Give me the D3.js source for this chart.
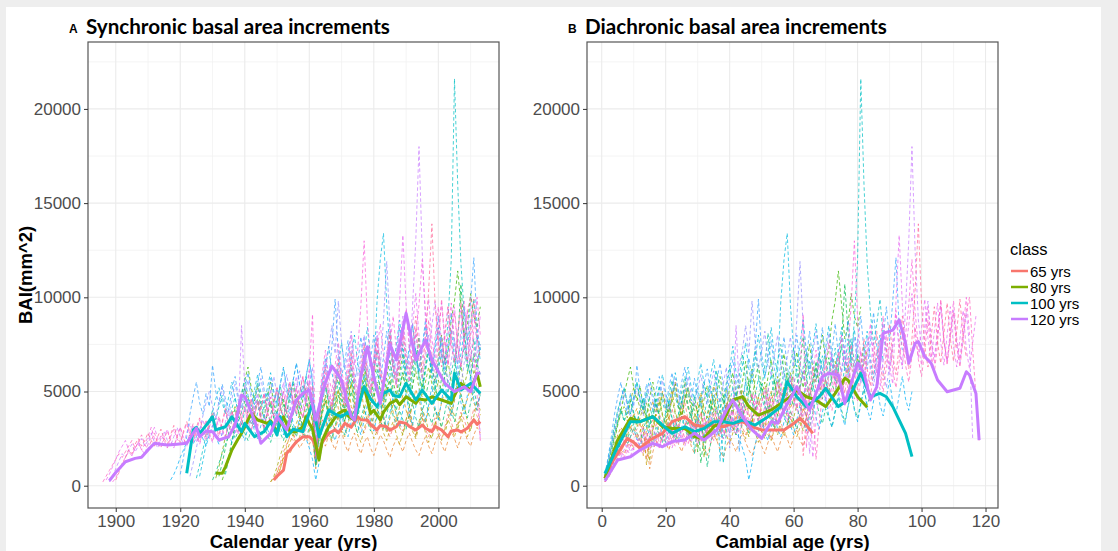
<!DOCTYPE html>
<meta charset="utf-8">
<script src="https://cdnjs.cloudflare.com/ajax/libs/d3/7.8.5/d3.min.js"></script>
<style>
  body { margin: 0; background: #eeeeee; }
  svg text { font-family: "Liberation Sans", Arial, sans-serif; }
</style>
<div id="my_dataviz"></div>
<script>

// all trees were cored in the same year, first value = ring next to the pith
var lastYear = 2013;

var classes = ["65 yrs", "80 yrs", "100 yrs", "120 yrs"];
var classColors = ["#F8766D", "#7CAE00", "#00BFC4", "#C77CFF"];

// basal area increment of each tree, in units of 100 mm^2, one value per ring
var trees65 = [
  [3,7,12,18,22,26,24,29,31,27, 30,33,29,14,26,35,31,38,34,29, 36,41,33,30,37,44,35,31,28,34,
   39,32,27,33,38,30,26,31,36,33, 29,35,40,31,27,33,37,30,26,32, 36,29,25,31,38,34,28,33,39,35, 30,34,41,37,33],
  [2,4,7,11,15,19,17,21,24,20, 23,26,22,25,9,18,24,21,27,23, 19,25,29,22,18,24,28,21,17,23,
   26,20,16,22,27,24,19,15,21,25, 22,18,24,28,23,19,16,22,26,21, 17,23,27,22,18,24,29,25,20,26, 30,24,21,27,31,28],
  [4,9,15,21,27,31,28,35,30,37, 41,33,16,30,39,45,37,43,50,41, 36,47,55,42,38,46,52,40,35,44,
   49,41,36,45,53,47,39,34,42,48, 40,35,43,51,46,38,33,41,47,39, 36,44,50,42,37,45,53,48,41,46, 52,44,40,49],
  [3,5,9,14,18,23,27,22,26,31, 25,29,33,11,24,30,36,28,24,31, 37,29,26,33,40,34,27,23,30,36,
   31,25,29,35,28,24,30,34,27,22, 28,33,37,29,25,31,36,28,23,29, 34,27,24,30,35,31,26,32,37,30, 26,31,36,33,38],
  [2,5,10,16,21,25,30,26,33,38, 31,36,42,34,13,29,40,47,38,33, 44,51,39,34,45,55,43,36,31,40,
   48,37,30,39,46,35,28,36,44,38, 31,27,35,42,33,26,34,41,36,29, 25,33,39,31,27,35,42,37,30,36, 43,34,29,37,45,40]
];

var trees80 = [
  [4,10,18,26,33,38,42,36,45,52, 47,41,38,44,36,31,39,45,37,33, 40,46,38,34,42,49,41,36,44,39,
   45,15,30,41,48,40,35,43,51,44, 38,46,54,45,40,49,62,50,43,48, 55,46,41,50,58,49,44,52,60,51,
   45,53,61,52,47,55,63,54,48,56, 50,58,66,55,49,57,64,53,60,68, 59,65,72],
  [3,8,15,24,32,40,48,56,63,52, 45,53,41,36,47,55,43,38,49,44, 39,47,54,42,37,46,52,44,40,18,
   35,46,53,44,39,50,58,47,41,52, 60,49,43,55,66,52,45,57,64,51, 46,58,67,55,48,60,70,57,50,62,
   71,59,52,64,75,62,55,68,80,66, 72,88,98,114,96,78,85,102,90, 84,95],
  [5,12,20,28,35,41,34,39,45,38, 33,40,46,37,31,38,44,36,30,37, 43,35,30,38,45,37,32,40,47,39,
   12,27,38,45,36,31,40,48,39,34, 42,50,41,36,45,57,44,38,47,54, 43,37,48,56,45,40,51,60,48,42,
   53,64,79,58,47,55,66,52,46,57, 68,54,49,62,76,107,82,65,58,70, 63,75],
  [3,7,12,17,22,26,30,25,29,33, 28,24,30,35,29,25,31,27,23,29, 34,28,24,31,37,30,26,33,28,25,
   31,27,10,22,30,36,29,25,32,38, 31,27,34,40,33,28,36,42,34,29, 37,43,35,30,38,45,37,32,40,35,
   30,38,44,36,31,39,46,38,33,41, 36,31,39,47,40,34,42,49,41,36, 44,51,43,48],
  [6,14,23,32,40,46,52,44,38,47, 55,46,40,50,42,36,45,53,44,39, 48,56,47,41,50,58,48,42,17,36,
   47,55,46,40,52,61,50,44,55,64, 52,46,58,70,56,49,61,72,58,51, 64,81,62,54,66,75,60,53,65,73,
   58,51,63,71,57,50,62,70,56,49, 60,68,55,63,74,61,67,78,65,59]
];

var trees100 = [
  [4,11,19,27,34,40,35,42,48,39, 33,41,47,38,32,40,46,37,31,39, 45,36,30,38,44,51,42,36,45,52,
   43,37,46,53,44,38,47,12,29,44, 52,43,37,46,55,45,39,48,57,47, 41,50,59,48,42,51,61,50,43,53,
   62,51,45,55,66,54,47,58,69,56, 49,60,73,59,52,63,78,65,88,120, 216,160,118,92,75,86,99,80,72],
  [5,13,22,31,39,46,52,44,38,47, 55,46,40,49,57,48,42,51,59,49, 43,52,60,50,44,54,63,52,46,56,
   65,54,47,58,67,55,13,36,52,62, 74,60,52,64,76,62,54,67,80,65, 57,70,84,68,60,98,120,134,96,72,
   63,75,88,71,62,74,86,70,61,73, 85,69,60,72,84,69,59,71,83,68, 58,70,82,67,57,69,80,66],
  [3,6,10,15,19,23,27,22,26,30, 25,21,27,32,26,22,28,33,27,23, 29,35,28,24,31,37,29,25,32,38,
   30,26,33,40,31,27,35,42,33,28, 36,30,25,20,14,3,12,22,29,35, 28,24,31,38,30,26,34,41,32,27,
   35,43,34,29,37,45,36,30,39,47, 37,31,40,49,38,32,42,51,40,34, 43,53,41,35,45,55,43,37,47,56,
   44,38,48,58,46,40,50],
  [6,15,26,38,47,55,44,38,49,42, 64,50,43,54,46,40,51,58,47,41, 52,60,49,43,55,63,51,45,57,48,
   42,54,62,50,44,56,65,53,46,58, 67,54,18,40,56,68,57,74,99,70, 58,66,77,62,54,65,79,63,55,67,
   80,64,56,68,82,66,57,70,84,67, 58,71,86,69,60,73,88,71,61,75, 90,72,62,76,92,74,64,78,95,77,
   98,121,84,72],
  [5,12,20,29,37,44,50,42,36,45, 52,43,37,46,54,45,39,48,56,46, 40,49,57,47,41,50,58,48,42,51,
   59,49,43,52,61,50,44,54,63,20, 41,55,64,72,85,70,98,76,62,71, 82,66,58,69,80,64,56,68,79,63,
   88,119,84,67,58,70,82,66,57,69, 81,65,56,68,80,64,55,67,79,63, 54,66,78,62,53,65,77,61,52,64, 75]
];

var trees120 = [
  [2,5,9,13,17,15,19,22,18,21, 25,21,24,28,23,20,25,29,24,21, 26,31,26,22,28,33,27,23,30,35,
   29,25,32,37,30,26,34,40,32,28, 36,85,52,38,33,42,49,39,34,44, 51,41,36,47,55,44,38,50,58,46,
   40,52,61,48,17,38,55,66,52,45, 58,70,56,48,62,74,59,51,65,78, 62,53,68,82,65,56,71,86,68,59,
   74,90,72,62,95,130,180,124,88,72, 85,98,78,68,82,95,76,66,80,93, 75,65,79,92,74,24],
  [3,6,10,14,18,21,24,19,16,20, 23,19,17,22,27,31,25,21,26,30, 24,20,26,31,25,21,27,32,26,22,
   28,34,27,23,30,36,29,25,33,39, 31,27,35,42,33,29,37,45,35,30, 39,47,37,32,42,50,39,34,44,53,
   42,36,47,56,45,15,34,50,60,48, 41,54,64,51,44,57,68,54,46,60, 72,57,49,63,76,60,51,66,80,63,
   54,98,133,96,72,85,102,80,68,84, 99,78,66,82,97,76,64,80,95,74, 63,78,93,72,62,76,90],
  [2,4,8,12,15,18,16,20,23,19, 22,26,31,25,21,27,24,20,26,30, 25,22,28,33,27,23,29,35,28,24,
   31,37,30,26,33,40,32,28,36,43, 34,30,38,46,36,31,41,49,39,33, 43,52,41,35,46,55,44,38,49,58,
   46,62,91,20,44,60,72,58,50,64, 76,61,53,67,80,64,72,96,130,88, 68,58,72,86,69,60,75,90,72,62,
   77,93,75,64,80,96,120,92,74,64, 79,95,76,65,81,97,77,66,82,98, 78,67,83,100,80],
  [2,5,8,11,14,17,15,18,21,24, 20,23,27,22,19,24,28,23,20,25, 29,24,21,26,31,25,22,28,33,27,
   23,29,35,28,24,31,37,30,26,33, 40,32,28,35,42,34,29,37,45,36, 31,39,47,38,33,41,50,40,35,43,
   52,42,36,45,54,44,14,33,48,57, 46,40,51,61,49,42,54,65,52,45, 57,69,55,47,60,72,58,50,63,76,
   61,52,66,80,64,55,69,84,67,58, 72,88,70,60,75,99,78,64,79,92, 74,63,78,93,100,72,48,24],
  [3,7,11,15,19,17,22,25,21,24, 28,24,21,26,30,25,22,27,32,26, 23,29,34,28,24,31,36,30,26,33,
   39,31,27,34,41,33,29,37,44,35, 30,39,46,37,32,41,49,39,34,44, 52,42,36,46,55,44,38,49,58,47,
   41,53,16,36,52,63,50,43,56,67, 54,46,59,71,57,49,62,75,60,51, 65,78,62,53,68,82,65,56,71,86,
   69,59,74,90,72,62,78,104,139,96, 74,63,79,95,76,65,81,97,78,66, 82,99,79,68]
];

// class means by calendar year [year, BAI mm^2]
var synMean65 = [[1949,300],[1950,500],[1952,830],[1953,1720],[1954,1900],[1956,2335],[1958,2600],[1960,2600],[1961,2450],
  [1963,1720],[1964,2300],[1966,2780],[1968,2960],[1969,2800],[1971,3310],[1973,3100],[1975,3660],[1976,3500],[1978,3490],
  [1979,3250],[1981,2960],[1982,3200],[1984,3130],[1985,2950],[1987,3130],[1988,3380],[1990,3310],[1991,3150],[1993,2960],
  [1995,3220],[1996,3050],[1998,2870],[1999,3150],[2001,2960],[2003,2600],[2004,2900],[2006,2960],[2007,2850],[2009,3050],
  [2011,3490],[2012,3250],[2013,3400]];
var synMean80 = [[1931,658],[1933,658],[1934,1000],[1936,1895],[1938,2500],[1939,2780],[1942,3840],[1944,3490],[1947,3310],
  [1948,3450],[1950,2870],[1952,3660],[1954,2870],[1956,2870],[1958,3130],[1959,3660],[1960,3310],[1961,3000],[1963,1360],
  [1964,2400],[1966,3130],[1969,3840],[1971,4020],[1972,3700],[1974,3490],[1975,4200],[1977,5250],[1979,3840],[1980,4000],
  [1982,3490],[1983,3900],[1985,4370],[1987,4550],[1988,4300],[1990,4720],[1993,4370],[1994,4600],[1996,4550],[1998,4720],
  [2001,4550],[2004,4370],[2005,4800],[2007,5430],[2010,5080],[2012,5970],[2013,5250]];
var synMean100 = [[1922,658],[1924,2960],[1925,3100],[1926,2780],[1928,3200],[1930,3660],[1931,2960],[1934,3130],[1936,3660],
  [1939,2870],[1940,3310],[1943,2600],[1946,2870],[1948,3400],[1950,2690],[1951,3660],[1953,2600],[1955,3000],[1958,2870],
  [1961,4370],[1963,2600],[1966,4020],[1968,3800],[1970,3660],[1972,3900],[1974,3490],[1977,5250],[1979,4600],[1981,4200],
  [1983,4900],[1985,5080],[1986,4800],[1988,4725],[1990,5440],[1993,4550],[1995,5080],[1998,4370],[2001,5080],[2004,4550],
  [2005,5970],[2007,5080],[2010,5430],[2013,4900]];
var synMean120 = [[1898,265],[1900,700],[1903,1274],[1906,1450],[1908,1507],[1910,1900],[1912,2250],[1914,2200],[1916,2160],
  [1919,2200],[1922,2250],[1925,3050],[1926,2600],[1928,2900],[1930,2870],[1932,2425],[1935,2600],[1937,3220],[1939,4810],
  [1940,4720],[1943,3490],[1945,2250],[1948,2780],[1950,3660],[1953,2960],[1956,4550],[1958,4900],[1960,5080],[1962,3490],
  [1965,5500],[1967,6350],[1970,5610],[1973,3660],[1974,3490],[1976,5790],[1978,7380],[1980,5790],[1982,4370],[1985,7500],
  [1987,6670],[1990,9150],[1993,6670],[1996,7730],[1998,6670],[2002,5450],[2005,4990],[2008,5250],[2010,4990],[2012,5970],
  [2013,5970]];

// class means by cambial age [age, BAI mm^2]
var diaMean65 = [[1,390],[3,1200],[5,1720],[8,2515],[10,2300],[12,1985],[15,2425],[19,2780],[22,3400],[26,3660],[29,3220],
  [32,3130],[35,3220],[38,3130],[41,3310],[44,3400],[47,3130],[50,2960],[54,2960],[57,2960],[60,3300],[62,3580],[64,3220],[66,2780]];
var diaMean80 = [[1,390],[5,2425],[9,3580],[12,3400],[16,3660],[19,3130],[22,3040],[26,3040],[29,2600],[32,2510],[35,3130],
  [38,3400],[41,4550],[44,4730],[46,4200],[49,3750],[53,4020],[56,4370],[59,4730],[61,5080],[64,4720],[67,4550],[70,4200],
  [73,4900],[76,5700],[77,5610],[80,4720],[83,4160]];
var diaMean100 = [[1,658],[5,2070],[9,3400],[12,3400],[16,3660],[19,3220],[22,2780],[26,3130],[29,2870],[32,3040],[35,3400],
  [38,3400],[41,3310],[44,3490],[48,3220],[52,3660],[56,4200],[58,5520],[61,4725],[64,4200],[68,4720],[70,5170],[74,4200],
  [77,4550],[81,5970],[84,4720],[87,4900],[89,4720],[91,4200],[95,2780],[97,1540]];
var diaMean120 = [[1,265],[5,1365],[9,1540],[12,1895],[16,2250],[19,2070],[22,2340],[26,2425],[29,2780],[32,2425],[36,2960],
  [39,4020],[41,4550],[44,3660],[47,2960],[50,2510],[53,3400],[55,3310],[57,4020],[61,5250],[62,4900],[65,4020],[69,5790],
  [71,5970],[74,5880],[76,4370],[80,6500],[82,5970],[84,4550],[86,5250],[88,8090],[91,8260],[93,8800],[95,7560],[96,6500],
  [98,7560],[99,7650],[101,6850],[103,6500],[105,5610],[108,4990],[110,5080],[112,5170],[114,6050],[115,5880],[117,4900],[118,2425]];

// axis ticks
var yearTicks = [1900, 1920, 1940, 1960, 1980, 2000];
var yearMinor = [1910, 1930, 1950, 1970, 1990, 2010];
var ageTicks = [0, 20, 40, 60, 80, 100, 120];
var ageMinor = [10, 30, 50, 70, 90, 110];
var baiTicks = [0, 5000, 10000, 15000, 20000];
var baiMinor = [2500, 7500, 12500, 17500, 22500];

// ggplot-like hue palette (polar LUV -> sRGB)
function hueColor(h, c, l) {
  var hr = h * Math.PI / 180, U = c * Math.cos(hr), V = c * Math.sin(hr);
  var Y = l > 8 ? Math.pow((l + 16) / 116, 3) : l / 903.3;
  var u = U / (13 * l) + 0.1978398, v = V / (13 * l) + 0.4683363;
  var X = 9 * Y * u / (4 * v), Z = -X / 3 - 5 * Y + 3 * Y / v;
  function g(t) { t = t <= 0.0031308 ? 12.92 * t : 1.055 * Math.pow(t, 1 / 2.4) - 0.055; return Math.round(255 * Math.max(0, Math.min(1, t))); }
  return d3.rgb(g(3.240479 * X - 1.537150 * Y - 0.498535 * Z),
                g(-0.969256 * X + 1.875992 * Y + 0.041556 * Z),
                g(0.055648 * X - 0.204043 * Y + 1.057311 * Z)).formatHex();
}

var trees = [];
[trees65, trees80, trees100, trees120].forEach(function(set, c) {
  set.forEach(function(v) { trees.push({cls: c, vals: v.map(function(d) { return d * 100; })}); });
});
trees.forEach(function(t, i) {
  t.start = lastYear - t.vals.length + 1;
  t.color = hueColor(15 + 360 * i / trees.length, 100, 65);
});

var W = 1118, H = 551;
var svg = d3.select("#my_dataviz").append("svg")
    .attr("width", W).attr("height", H);

svg.append("rect").attr("x", 6).attr("y", 7).attr("width", 1095).attr("height", H - 7).attr("fill", "white");

var y = d3.scaleLinear().domain([-1183, 23552]).range([508, 42]);

function panel(x, xTicks, xMinor, treeX, means, letter, title, xTitle) {
  var r = x.range();
  var g = svg.append("g");

  g.selectAll(".minx").data(xMinor).enter().append("line")
    .attr("x1", x).attr("x2", x).attr("y1", 42).attr("y2", 508)
    .attr("stroke", "#f1f1f1").attr("stroke-width", 0.8);
  g.selectAll(".miny").data(baiMinor).enter().append("line")
    .attr("x1", r[0]).attr("x2", r[1]).attr("y1", y).attr("y2", y)
    .attr("stroke", "#f1f1f1").attr("stroke-width", 0.8);
  g.selectAll(".majx").data(xTicks).enter().append("line")
    .attr("x1", x).attr("x2", x).attr("y1", 42).attr("y2", 508)
    .attr("stroke", "#ebebeb").attr("stroke-width", 1.1);
  g.selectAll(".majy").data(baiTicks).enter().append("line")
    .attr("x1", r[0]).attr("x2", r[1]).attr("y1", y).attr("y2", y)
    .attr("stroke", "#ebebeb").attr("stroke-width", 1.1);

  var line = d3.line().x(function(d) { return x(d[0]); }).y(function(d) { return y(d[1]); });

  // individual trees, dashed
  g.selectAll(".tree").data(trees).enter().append("path")
    .attr("d", function(t) { return line(t.vals.map(function(v, i) { return [treeX(t, i), v]; })); })
    .attr("fill", "none")
    .attr("stroke", function(t) { return t.color; })
    .attr("stroke-width", 1)
    .attr("stroke-dasharray", "3.5,2.5")
    .attr("opacity", 0.72);

  // class means
  g.selectAll(".mean").data(means).enter().append("path")
    .attr("d", line)
    .attr("fill", "none")
    .attr("stroke", function(d, i) { return classColors[i]; })
    .attr("stroke-width", 3)
    .attr("stroke-linejoin", "round");

  g.append("rect").attr("x", r[0]).attr("y", 42).attr("width", r[1] - r[0]).attr("height", 466)
    .attr("fill", "none").attr("stroke", "#555").attr("stroke-width", 1.2);

  var xAxis = g.append("g").attr("transform", "translate(0,508)")
    .call(d3.axisBottom(x).tickValues(xTicks).tickSize(4).tickPadding(2.5).tickFormat(d3.format("d")));
  var yAxis = g.append("g").attr("transform", "translate(" + r[0] + ",0)")
    .call(d3.axisLeft(y).tickValues(baiTicks).tickSize(4).tickPadding(3).tickFormat(d3.format("d")));
  [xAxis, yAxis].forEach(function(a) {
    a.select(".domain").remove();
    a.selectAll("line").attr("stroke", "#333");
    a.selectAll("text").attr("fill", "#4d4d4d").style("font-size", "17px");
  });

  g.append("text").attr("x", (r[0] + r[1]) / 2).attr("y", 548).attr("text-anchor", "middle")
    .style("font-size", "18.5px").style("font-weight", "bold").text(xTitle);

  g.append("text").attr("x", r[0] - 19).attr("y", 33)
    .style("font-size", "12px").style("font-weight", "bold").text(letter);
  var t = g.append("text").attr("x", r[0] - 2).attr("y", 34)
    .style("font-family", "Lato, sans-serif").style("font-size", "20px").style("font-weight", "bold").text(title);
  return t;
}

var xA = d3.scaleLinear().domain([1891.4, 2018.8]).range([88, 499]);
var xB = d3.scaleLinear().domain([-4.6, 123.9]).range([587, 998]);

var tA = panel(xA, yearTicks, yearMinor, function(t, i) { return t.start + i; },
  [synMean65, synMean80, synMean100, synMean120], "A", "Synchronic basal area increments", "Calendar year (yrs)");
var tB = panel(xB, ageTicks, ageMinor, function(t, i) { return i + 1; },
  [diaMean65, diaMean80, diaMean100, diaMean120], "B", "Diachronic basal area increments", "Cambial age (yrs)");

// fit the panel titles to the width they take in the original
var fs = 20 * 304 / tA.node().getComputedTextLength();
tA.style("font-size", fs + "px");
tB.style("font-size", fs + "px");

svg.append("text").attr("transform", "translate(32,275) rotate(-90)").attr("text-anchor", "middle")
  .style("font-size", "18.5px").style("font-weight", "bold").text("BAI(mm^2)");

// legend
var leg = svg.append("g").attr("transform", "translate(1010,0)");
leg.append("text").attr("x", 0).attr("y", 255).style("font-size", "16.5px").text("class");
var items = leg.selectAll(".item").data(classes).enter().append("g")
  .attr("transform", function(d, i) { return "translate(0," + (271 + i * 16) + ")"; });
items.append("line").attr("x1", 1).attr("x2", 18).attr("stroke", function(d, i) { return classColors[i]; })
  .attr("stroke-width", 2.5);
items.append("text").attr("x", 20).attr("y", 5.5).style("font-size", "15px").text(function(d) { return d; });

</script>
